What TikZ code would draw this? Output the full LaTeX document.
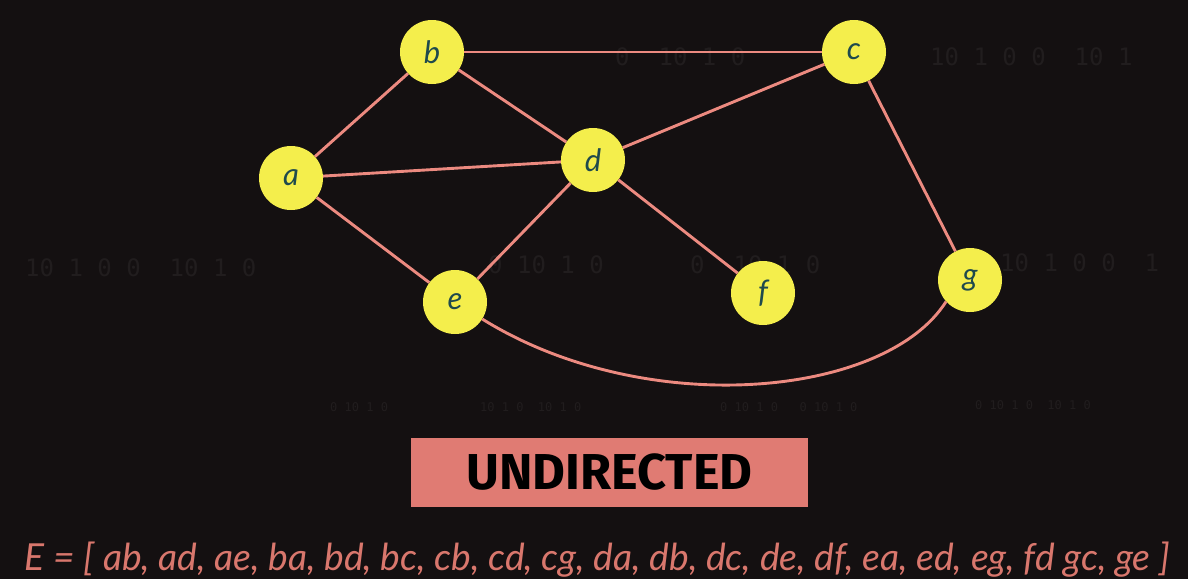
\documentclass[tikz,border=0pt]{standalone}
\usepackage{fontspec}
\setmainfont{Lato}
\newfontfamily\handfont{Lato}
\newfontfamily\boxfont{Fira Sans}
\newfontfamily\digitfont{DejaVu Sans Mono}
\definecolor{bg}{HTML}{141011}
\definecolor{nodefill}{HTML}{F4EE4C}
\definecolor{nodetext}{HTML}{1F4A4C}
\definecolor{edgecol}{HTML}{EC8A80}
\definecolor{boxfill}{HTML}{E07B73}
\definecolor{listcol}{HTML}{D9776D}
\definecolor{digitcol}{HTML}{211D1E}
\begin{document}
\begin{tikzpicture}[x=1pt,y=-1pt,
  vertex/.style={circle,fill=nodefill,minimum size=64pt,inner sep=0pt,
    font=\handfont\itshape\fontsize{31}{31}\selectfont,text=nodetext},
  edge/.style={draw=edgecol,line width=2.9pt},
  digits/.style={text=digitcol,font=\digitfont\fontsize{24}{24}\selectfont,inner sep=0pt,anchor=west},
  smalldigits/.style={text=digitcol,font=\digitfont\fontsize{12}{12}\selectfont,inner sep=0pt,anchor=west}]
\fill[bg] (0,0) rectangle (1188,579);
\useasboundingbox (0,0) rectangle (1188,579);
% faint background digits
\node[digits] (t1) at (615,57) {0\ \ 10 1 0};
\node[digits] (t2) at (930,57) {10 1 0 0\ \ 10 1};
\node[digits] (t3) at (25,268) {10 1 0 0\ \ 10 1 0};
\node[digits] (t4) at (488,265) {0 10 1 0};
\node[digits] (t5) at (690,265) {0\ \ 10 1 0};
\node[digits] (t6) at (1000,263) {10 1 0 0\ \ 1};
\node[smalldigits] (s1) at (330,407) {0\ 10\ 1 0};
\node[smalldigits] (s2) at (480,407) {10 1 0\ \ 10 1 0};
\node[smalldigits] (s3) at (720,407) {0 10 1 0\ \ \ 0\ 10 1 0};
\node[smalldigits] (s4) at (975,405) {0\ 10\ 1 0\ \ 10 1 0};
% vertices
\node[vertex] (a) at (291,178) {a};
\node[vertex] (b) at (432,52) {b};
\node[vertex] (c) at (854,52) {c};
\node[vertex] (d) at (593,160) {d};
\node[vertex] (e) at (455,302) {e};
\node[vertex] (f) at (763,293) {f};
\node[vertex] (g) at (970,280) {g};
% edges
\draw[edge] (a) -- (b);
\draw[edge] (a) -- (d);
\draw[edge] (a) -- (e);
\draw[edge] (b) -- (d);
\draw[edge] (b) -- (c);
\draw[edge] (c) -- (d);
\draw[edge] (c) -- (g);
\draw[edge] (d) -- (e);
\draw[edge] (d) -- (f);
\draw[edge] (e.-32) .. controls (645,420) and (885,398) .. (g.222);
% label box
\node[fill=boxfill,minimum width=397pt,minimum height=69pt,inner sep=0pt] (box) at (609.5,472.5)
  {\boxfont\bfseries\fontsize{50}{50}\selectfont\color{black}\resizebox{286pt}{!}{UNDIRECTED}};
% edge list
\node[text=listcol,inner sep=0pt] (list) at (597,560)
  {\resizebox{1145pt}{!}{\handfont\itshape\fontsize{30}{30}\selectfont E = [ ab, ad, ae, ba, bd, bc, cb, cd, cg, da, db, dc, de, df, ea, ed, eg, fd gc, ge ]}};
\end{tikzpicture}
\end{document}
